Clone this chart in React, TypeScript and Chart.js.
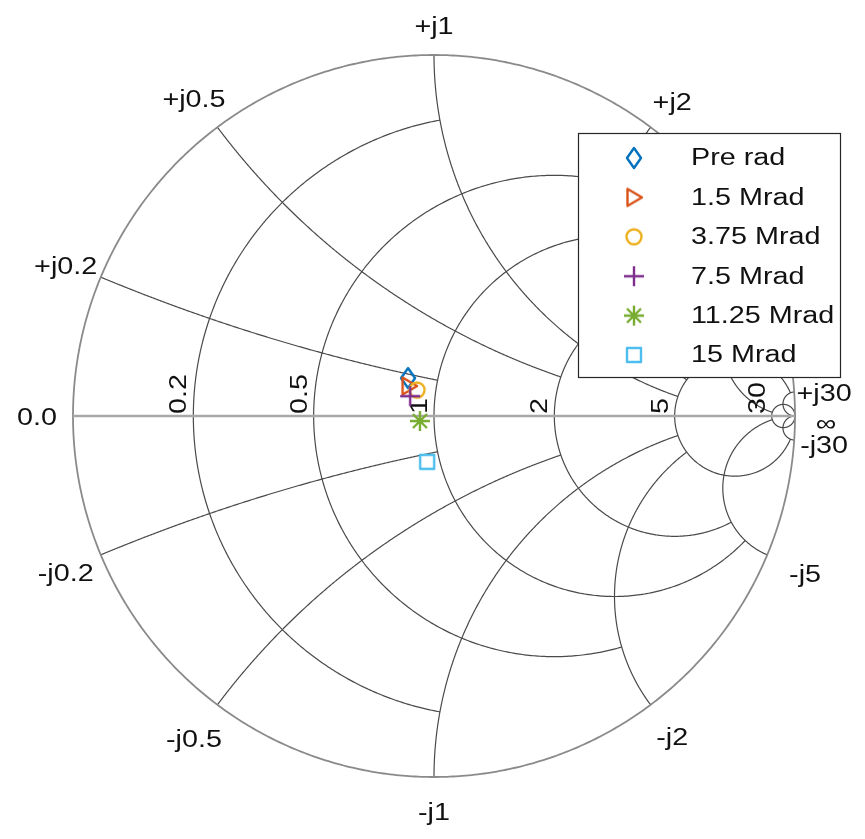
import React, { useEffect, useRef } from "react";
import { Chart, registerables } from "chart.js";

Chart.register(...registerables);

// ---- data ----
const seriesLabels = ["Pre rad", "1.5 Mrad", "3.75 Mrad", "7.5 Mrad", "11.25 Mrad", "15 Mrad"];
// reflection coefficient (real, imaginary) of each measurement
const gammaRe = [-0.072, -0.069, -0.047, -0.066, -0.039, -0.019];
const gammaIm = [0.105, 0.083, 0.072, 0.055, -0.014, -0.127];
const seriesColors = ["#0072BD", "#D95319", "#EDB120", "#7E2F8E", "#77AC30", "#4DBEEE"];
const seriesMarkers = ["diamond", "triangleRight", "circle", "plus", "asterisk", "square"];

// Smith grid: circle value and the value of the other family where it stops
const resistanceValues = [0.2, 0.5, 1, 2, 5, 30];
const resistanceLimits = [1, 2, 5, 5, 30, Infinity];
const reactanceValues = [0.2, 0.5, 1, 2, 5, 30];
const reactanceLimits = [1, 2, 5, 5, 30, Infinity];
const resistanceTickLabels = ["0.2", "0.5", "1", "2", "5", "30"];
const reactanceTickLabels = ["0.2", "0.5", "1", "2", "5", "30"];

// ---- styles ----
const FONT = '"Liberation Sans", Arial, Helvetica, sans-serif';
const FONT_SIZE = 23;
const STRETCH = 1.25;
const TEXT_COLOR = "#111111";
const labelDist = [38, 39, 32, 36, 41, 30];
const LABEL_SHIFT_Y = 5;

function zToGamma(r: number, x: number) {
  const d = (r + 1) * (r + 1) + x * x;
  return { x: (r * r - 1 + x * x) / d, y: (2 * x) / d };
}

function makeMarker(shape: string, color: string): HTMLCanvasElement {
  const c = document.createElement("canvas");
  c.width = 30;
  c.height = 30;
  const g = c.getContext("2d")!;
  const m = 15;
  g.strokeStyle = color;
  g.lineWidth = 2.4;
  g.lineJoin = "round";
  g.lineCap = "butt";
  g.beginPath();
  if (shape === "diamond") {
    g.moveTo(m, m - 10);
    g.lineTo(m + 7, m);
    g.lineTo(m, m + 10);
    g.lineTo(m - 7, m);
    g.closePath();
  } else if (shape === "triangleRight") {
    g.moveTo(m - 6.5, m - 8.5);
    g.lineTo(m + 8, m);
    g.lineTo(m - 6.5, m + 8.5);
    g.closePath();
  } else if (shape === "circle") {
    g.arc(m, m, 7.5, 0, Math.PI * 2);
  } else if (shape === "plus") {
    g.moveTo(m - 10, m);
    g.lineTo(m + 10, m);
    g.moveTo(m, m - 10);
    g.lineTo(m, m + 10);
  } else if (shape === "asterisk") {
    const L = 10;
    const D = 7;
    g.moveTo(m - L, m);
    g.lineTo(m + L, m);
    g.moveTo(m, m - L);
    g.lineTo(m, m + L);
    g.moveTo(m - D, m - D);
    g.lineTo(m + D, m + D);
    g.moveTo(m - D, m + D);
    g.lineTo(m + D, m - D);
  } else if (shape === "square") {
    g.rect(m - 7, m - 7, 14, 14);
  }
  g.stroke();
  return c;
}

function drawText(
  ctx: CanvasRenderingContext2D,
  text: string,
  x: number,
  y: number,
  align: CanvasTextAlign,
  baseline: CanvasTextBaseline,
  rot = 0,
  size = FONT_SIZE,
  stretch = STRETCH
) {
  ctx.save();
  ctx.translate(x, y);
  if (rot) ctx.rotate(rot);
  ctx.scale(stretch, 1);
  ctx.font = `${size}px ${FONT}`;
  ctx.textAlign = align;
  ctx.textBaseline = baseline;
  ctx.fillStyle = TEXT_COLOR;
  ctx.fillText(text, 0, 0);
  ctx.restore();
}

const smithPlugin = {
  id: "smithGrid",
  beforeDatasetsDraw(chart: any) {
    const ctx: CanvasRenderingContext2D = chart.ctx;
    const xs = chart.scales.x;
    const ys = chart.scales.y;
    const P = (gx: number, gy: number) => [xs.getPixelForValue(gx), ys.getPixelForValue(gy)];
    const stroke = (pts: number[][], color: string, lw: number) => {
      ctx.beginPath();
      pts.forEach((p, i) => (i ? ctx.lineTo(p[0], p[1]) : ctx.moveTo(p[0], p[1])));
      ctx.strokeStyle = color;
      ctx.lineWidth = lw;
      ctx.stroke();
    };
    ctx.save();
    ctx.lineJoin = "round";
    const N = 400;
    const GRID = "#4a4a4a";
    // resistance circles
    resistanceValues.forEach((r, i) => {
      const lim = resistanceLimits[i];
      const c = r / (1 + r);
      const rho = 1 / (1 + r);
      let a0 = 0;
      if (lim !== Infinity) {
        const g = zToGamma(r, lim);
        a0 = Math.atan2(g.y, g.x - c);
      }
      const pts: number[][] = [];
      for (let k = 0; k <= N; k++) {
        const a = a0 + ((2 * Math.PI - 2 * a0) * k) / N;
        pts.push(P(c + rho * Math.cos(a), rho * Math.sin(a)));
      }
      stroke(pts, GRID, 1.2);
    });
    // reactance arcs
    reactanceValues.forEach((xv0, i) => {
      const lim = reactanceLimits[i];
      [1, -1].forEach((s) => {
        const xv = s * xv0;
        const cy = 1 / xv;
        const rho = 1 / Math.abs(xv);
        const g0 = zToGamma(0, xv);
        const a0 = Math.atan2(g0.y - cy, g0.x - 1);
        let a1: number;
        if (lim === Infinity) a1 = Math.atan2(-cy, 0);
        else {
          const g1 = zToGamma(lim, xv);
          a1 = Math.atan2(g1.y - cy, g1.x - 1);
        }
        let d = a1 - a0;
        while (d > Math.PI) d -= 2 * Math.PI;
        while (d < -Math.PI) d += 2 * Math.PI;
        const pts: number[][] = [];
        for (let k = 0; k <= N; k++) {
          const a = a0 + (d * k) / N;
          pts.push(P(1 + rho * Math.cos(a), cy + rho * Math.sin(a)));
        }
        stroke(pts, GRID, 1.2);
      });
    });
    // outer circle
    const outer: number[][] = [];
    for (let k = 0; k <= 720; k++) {
      const a = (2 * Math.PI * k) / 720;
      outer.push(P(Math.cos(a), Math.sin(a)));
    }
    stroke(outer, "#8a8a8a", 1.8);
    // real axis
    stroke([P(-1, 0), P(1, 0)], "#a8a8a8", 2.6);

    // resistance labels (rotated)
    resistanceValues.forEach((r, i) => {
      const [px, py] = P((r - 1) / (r + 1), 0);
      drawText(ctx, resistanceTickLabels[i], px - 7, py - 2, "left", "alphabetic", -Math.PI / 2);
    });

    // reactance labels
    const [cx, cyp] = P(0, 0);
    reactanceValues.forEach((xv0, i) => {
      [1, -1].forEach((s) => {
        const g0 = zToGamma(0, s * xv0);
        const [ax, ay] = P(g0.x, g0.y);
        const dx = ax - cx;
        const dy = ay - cyp;
        const len = Math.hypot(dx, dy);
        const k = labelDist[i];
        const tx = ax + (dx / len) * k;
        const ty = ay + (dy / len) * k + LABEL_SHIFT_Y;
        drawText(ctx, (s > 0 ? "+j" : "-j") + reactanceTickLabels[i], tx, ty, "center", "middle");
      });
    });
    // 0.0 and infinity
    const [lx, ly] = P(-1, 0);
    drawText(ctx, "0.0", lx - 16, ly + 3, "right", "middle");
    const [rx, ry] = P(1, 0);
    drawText(ctx, "\u221E", rx + 31, ry + 9, "center", "middle");
    ctx.restore();
  },
  afterDatasetsDraw(chart: any) {
    const ctx: CanvasRenderingContext2D = chart.ctx;
    const markers = chart.data.datasets.map((d: any) => d.pointStyle);
    ctx.save();
    const bx = 578.5;
    const by = 133.5;
    const bw = 262;
    const bh = 244;
    ctx.fillStyle = "#ffffff";
    ctx.fillRect(bx, by, bw, bh);
    ctx.strokeStyle = "#262626";
    ctx.lineWidth = 1.2;
    ctx.strokeRect(bx, by, bw, bh);
    chart.data.datasets.forEach((d: any, i: number) => {
      const yy = 158 + i * 39.4;
      const m = markers[i];
      ctx.drawImage(m, 634 - m.width / 2, yy - m.height / 2);
      drawText(ctx, d.label, 691, yy + 1, "left", "middle");
    });
    ctx.restore();
  },
};

export default function App() {
  const ref = useRef<HTMLCanvasElement | null>(null);
  useEffect(() => {
    if (!ref.current) return;
    const datasets = seriesLabels.map((label, i) => ({
      label,
      data: [{ x: gammaRe[i], y: gammaIm[i] }],
      pointStyle: makeMarker(seriesMarkers[i], seriesColors[i]),
      pointRadius: 10,
      borderColor: seriesColors[i],
      backgroundColor: seriesColors[i],
      showLine: false,
      order: seriesLabels.length - i,
    }));
    const chart = new Chart(ref.current, {
      type: "scatter",
      data: { datasets },
      options: {
        animation: false,
        responsive: false,
        maintainAspectRatio: false,
        devicePixelRatio: 1,
        layout: { padding: { left: 73, right: 70, top: 55, bottom: 62 } },
        scales: {
          x: { type: "linear", min: -1, max: 1, display: false },
          y: { type: "linear", min: -1, max: 1, display: false },
        },
        plugins: { legend: { display: false }, tooltip: { enabled: false } },
        events: [],
      },
      plugins: [smithPlugin],
    } as any);
    return () => chart.destroy();
  }, []);
  return (
    <div style={{ position: "fixed", left: 0, top: 0, width: 865, height: 839, background: "#fff" }}>
      <canvas ref={ref} width={865} height={839} style={{ width: 865, height: 839, display: "block" }} />
    </div>
  );
}
